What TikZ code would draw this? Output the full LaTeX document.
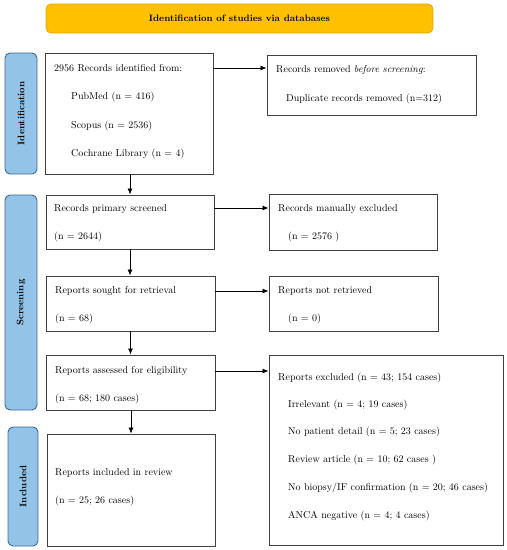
\documentclass[tikz,border=0pt]{standalone}
\usetikzlibrary{arrows.meta}
\definecolor{bannerfill}{HTML}{FFC000}
\definecolor{bannerdraw}{HTML}{E6A800}
\definecolor{sidefill}{HTML}{93C4E8}
\definecolor{sidedraw}{HTML}{3A6A90}
\definecolor{boxdraw}{HTML}{404040}
\begin{document}
\begin{tikzpicture}[x=1pt,y=-1pt,
  box/.style={draw=boxdraw,line width=0.9pt,fill=white,rectangle,inner sep=0pt},
  side/.style={draw=sidedraw,line width=0.9pt,fill=sidefill,rounded corners=5pt,inner sep=0pt},
  sidetext/.style={rotate=90,font=\fontsize{9.5}{11}\selectfont\bfseries},
  txt/.style={anchor=west,inner sep=0pt,font=\fontsize{10}{12}\selectfont},
  arr/.style={draw=black,line width=0.8pt,-{Latex[length=6pt,width=5pt]}}]
\useasboundingbox (0,0) rectangle (507,550);
% banner
\node[draw=bannerdraw,fill=bannerfill,rounded corners=5pt,line width=0.8pt,minimum width=387pt,minimum height=29pt,inner sep=0pt,font=\fontsize{9.3}{11}\selectfont\bfseries] (banner) at (239.5,18.5) {Identification of studies via databases};
% side labels
\node[side,minimum width=32pt,minimum height=121pt] (sid) at (21,113.5) {};
\node[sidetext] (sidt) at (sid.center) {Identification};
\node[side,minimum width=32pt,minimum height=215pt] (sscr) at (21,302.5) {};
\node[sidetext] (sscrt) at (sscr.center) {Screening};
\node[side,minimum width=30pt,minimum height=119pt] (sinc) at (23,486.5) {};
\node[sidetext] (sinct) at (sinc.center) {Included};
% left boxes
\node[box,minimum width=168pt,minimum height=121pt] (b1) at (129,113.5) {};
\node[box,minimum width=168pt,minimum height=54pt] (b2) at (130,222) {};
\node[box,minimum width=169pt,minimum height=55pt] (b3) at (130.5,303.5) {};
\node[box,minimum width=169pt,minimum height=55pt] (b4) at (130.5,382.5) {};
\node[box,minimum width=168pt,minimum height=112pt] (b5) at (131,490) {};
% right boxes
\node[box,minimum width=209pt,minimum height=60pt] (r1) at (371.5,85) {};
\node[box,minimum width=168pt,minimum height=56pt] (r2) at (353,222) {};
\node[box,minimum width=169pt,minimum height=55pt] (r3) at (353.5,303.5) {};
\node[box,minimum width=234pt,minimum height=190pt] (r4) at (386,450) {};
% texts in b1
\node[txt] (t11) at (54,68) {2956 Records identified from:};
\node[txt] (t12) at (71,97) {PubMed (n = 416)};
\node[txt] (t13) at (71,126) {Scopus (n = 2536)};
\node[txt] (t14) at (71,154) {Cochrane Library (n = 4)};
% r1
\node[txt] (u11) at (276,70) {Records removed \emph{before screening}:};
\node[txt] (u12) at (286,99) {Duplicate records removed (n=312)};
% b2
\node[txt] (t21) at (54,209) {Records primary screened};
\node[txt] (t22) at (54,237) {(n = 2644)};
% r2
\node[txt] (u21) at (278,209) {Records manually excluded};
\node[txt] (u22) at (288,237) {(n = 2576 )};
% b3
\node[txt] (t31) at (55,291) {Reports sought for retrieval};
\node[txt] (t32) at (55,319) {(n = 68)};
% r3
\node[txt] (u31) at (278,291) {Reports not retrieved};
\node[txt] (u32) at (288,319) {(n = 0)};
% b4
\node[txt] (t41) at (55,371) {Reports assessed for eligibility};
\node[txt] (t42) at (55,399) {(n = 68; 180 cases)};
% r4
\node[txt] (u41) at (278,378) {Reports excluded (n = 43; 154 cases)};
\node[txt] (u42) at (288,405) {Irrelevant (n = 4; 19 cases)};
\node[txt] (u43) at (288,432) {No patient detail (n = 5; 23 cases)};
\node[txt] (u44) at (288,460) {Review article (n = 10; 62 cases )};
\node[txt] (u45) at (288,488) {No biopsy/IF confirmation (n = 20; 46 cases)};
\node[txt] (u46) at (288,516) {ANCA negative (n = 4; 4 cases)};
% b5
\node[txt] (t51) at (55,473) {Reports included in review};
\node[txt] (t52) at (55,501) {(n = 25; 26 cases)};
% arrows
\coordinate (a1) at (0,68);
\coordinate (a2) at (0,208);
\coordinate (a3) at (0,291);
\coordinate (a4) at (0,371);
\draw[arr] (b1.east |- a1) -- (r1.west |- a1);
\draw[arr] (b2.east |- a2) -- (r2.west |- a2);
\draw[arr] (b3.east |- a3) -- (r3.west |- a3);
\draw[arr] (b4.east |- a4) -- (r4.west |- a4);
\draw[arr] (b1.south -| b2.north) -- (b2.north);
\draw[arr] (b2.south) -- (b2.south |- b3.north);
\draw[arr] (b3.south) -- (b3.south |- b4.north);
\draw[arr] (b4.south -| b5.north) -- (b5.north);
\end{tikzpicture}
\end{document}
